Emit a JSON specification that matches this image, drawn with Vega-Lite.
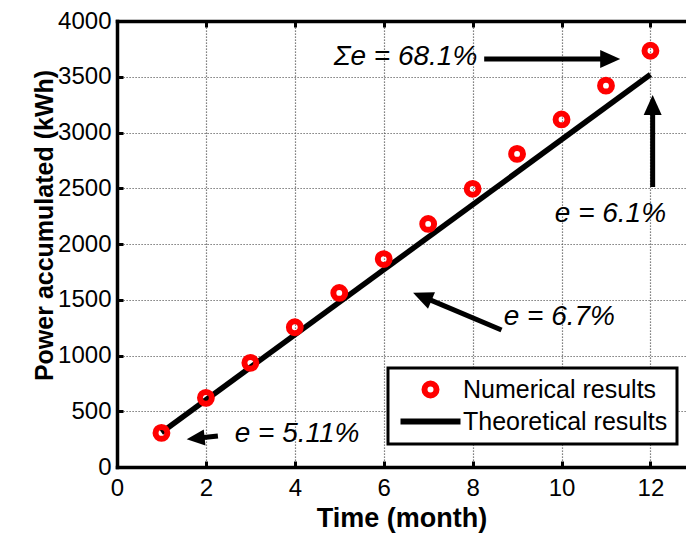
{
  "$schema": "https://vega.github.io/schema/vega-lite/v6.json",
  "width": 569,
  "height": 446,
  "autosize": {"type": "none"},
  "padding": {"left": 117, "top": 21, "right": 0, "bottom": 67},
  "background": "white",
  "config": {
    "font": "Liberation Sans",
    "view": {"stroke": null},
    "axis": {
      "domainColor": "black", "domainWidth": 3.5, "domainCap": "square",
      "tickColor": "black", "tickWidth": 3, "tickSize": -6,
      "labelColor": "black", "labelFontSize": 24, "labelFont": "Liberation Sans",
      "labelFlush": false, "labelOverlap": false, "labelPadding": 12,
      "titleColor": "black", "titleFont": "Liberation Sans", "titleFontWeight": "bold",
      "gridColor": "#5a5a5a", "gridDash": [1.2, 1.8], "gridWidth": 1.2
    },
    "legend": {
      "strokeColor": "black", "strokeWidth": 3, "fillColor": "white", "padding": 9,
      "labelFontSize": 25, "labelColor": "black", "labelFont": "Liberation Sans", "labelLimit": 500,
      "symbolSize": 144, "symbolStrokeWidth": 6, "symbolOffset": 21, "labelOffset": 20,
      "rowPadding": 1
    }
  },
  "datasets": {
    "numerical": [
      {"month": 1, "power": 306, "series": "Numerical results"},
      {"month": 2, "power": 620, "series": "Numerical results"},
      {"month": 3, "power": 934, "series": "Numerical results"},
      {"month": 4, "power": 1253, "series": "Numerical results"},
      {"month": 5, "power": 1561, "series": "Numerical results"},
      {"month": 6, "power": 1865, "series": "Numerical results"},
      {"month": 7, "power": 2180, "series": "Numerical results"},
      {"month": 8, "power": 2495, "series": "Numerical results"},
      {"month": 9, "power": 2808, "series": "Numerical results"},
      {"month": 10, "power": 3117, "series": "Numerical results"},
      {"month": 11, "power": 3420, "series": "Numerical results"},
      {"month": 12, "power": 3733, "series": "Numerical results"}
    ],
    "theoretical": [
      {"month": 1, "power": 310, "series": "Theoretical results"},
      {"month": 12, "power": 3520, "series": "Theoretical results"}
    ],
    "labels": [
      {"text": "Σe = 68.1%", "x": 6.49, "y": 3673},
      {"text": "e = 6.1%", "x": 11.1, "y": 2269},
      {"text": "e = 6.7%", "x": 9.95, "y": 1341},
      {"text": "e = 5.11%", "x": 4.05, "y": 296}
    ],
    "shafts": [
      {"arrow": "sum", "x": 8.26, "y": 3659, "x2": 11.0, "y2": 3659},
      {"arrow": "e12", "x": 12.05, "y": 2511, "x2": 12.05, "y2": 3247},
      {"arrow": "e6", "x": 8.65, "y": 1229, "x2": 6.87, "y2": 1528},
      {"arrow": "e1", "x": 2.27, "y": 278, "x2": 1.79, "y2": 258}
    ],
    "heads": [
      {"arrow": "sum", "x": 11.32, "y": 3659},
      {"arrow": "e12", "x": 12.05, "y": 3336},
      {"arrow": "e6", "x": 6.66, "y": 1563},
      {"arrow": "e1", "x": 1.568, "y": 248}
    ]
  },
  "resolve": {"axis": {"x": "independent", "y": "independent"}},
  "layer": [
    {
      "data": {"name": "theoretical"},
      "mark": {"type": "line", "strokeWidth": 5.5, "strokeCap": "butt"},
      "encoding": {
        "x": {"field": "month", "type": "quantitative",
          "scale": {"domain": [0, 12.8], "nice": false, "zero": false},
          "axis": {"orient": "top", "labels": false, "title": null, "grid": false, "values": [0, 2, 4, 6, 8, 10, 12]}},
        "y": {"field": "power", "type": "quantitative",
          "scale": {"domain": [0, 4000], "nice": false},
          "axis": {"orient": "left", "grid": true, "format": "d", "values": [0, 500, 1000, 1500, 2000, 2500, 3000, 3500, 4000], "title": "Power accumulated (kWh)", "titleFontSize": 25, "titleY": 204, "titlePadding": 0}},
        "color": {"field": "series", "type": "nominal",
          "scale": {"domain": ["Numerical results", "Theoretical results"], "range": ["#ff0000", "#000000"]},
          "legend": {"orient": "none", "legendX": 271, "legendY": 347, "title": null}}
      }
    },
    {
      "data": {"name": "numerical"},
      "mark": {"type": "point", "filled": false, "size": 140, "strokeWidth": 6, "opacity": 1},
      "encoding": {
        "x": {"field": "month", "type": "quantitative",
          "axis": {"orient": "bottom", "grid": true, "labelPadding": 15, "values": [0, 2, 4, 6, 8, 10, 12], "title": "Time (month)", "titleFontSize": 27, "titlePadding": 5}},
        "y": {"field": "power", "type": "quantitative", "axis": null},
        "color": {"field": "series", "type": "nominal",
          "legend": {"orient": "none", "legendX": 271, "legendY": 347, "title": null}},
        "shape": {"field": "series", "type": "nominal",
          "scale": {"domain": ["Numerical results", "Theoretical results"], "range": ["circle", "M-5,0H5"]},
          "legend": {"orient": "none", "legendX": 271, "legendY": 347, "title": null}}
      }
    },
    {
      "data": {"name": "shafts"},
      "mark": {"type": "rule", "strokeWidth": 5, "color": "black", "strokeCap": "butt"},
      "encoding": {
        "x": {"field": "x", "type": "quantitative", "axis": null},
        "y": {"field": "y", "type": "quantitative", "axis": null},
        "x2": {"field": "x2"},
        "y2": {"field": "y2"}
      }
    },
    {
      "data": {"name": "heads"},
      "transform": [{"filter": "datum.arrow === 'sum'"}],
      "mark": {"type": "point", "shape": "M0,0L0.9,2L-0.9,2Z", "filled": true, "color": "black", "size": 400, "angle": 90, "opacity": 1, "strokeWidth": 0},
      "encoding": {
        "x": {"field": "x", "type": "quantitative", "axis": null},
        "y": {"field": "y", "type": "quantitative", "axis": null}
      }
    },
    {
      "data": {"name": "heads"},
      "transform": [{"filter": "datum.arrow === 'e12'"}],
      "mark": {"type": "point", "shape": "M0,0L0.9,2L-0.9,2Z", "filled": true, "color": "black", "size": 400, "angle": 0, "opacity": 1, "strokeWidth": 0},
      "encoding": {
        "x": {"field": "x", "type": "quantitative", "axis": null},
        "y": {"field": "y", "type": "quantitative", "axis": null}
      }
    },
    {
      "data": {"name": "heads"},
      "transform": [{"filter": "datum.arrow === 'e6'"}],
      "mark": {"type": "point", "shape": "M0,0L0.9,2L-0.9,2Z", "filled": true, "color": "black", "size": 400, "angle": 292.8, "opacity": 1, "strokeWidth": 0},
      "encoding": {
        "x": {"field": "x", "type": "quantitative", "axis": null},
        "y": {"field": "y", "type": "quantitative", "axis": null}
      }
    },
    {
      "data": {"name": "heads"},
      "transform": [{"filter": "datum.arrow === 'e1'"}],
      "mark": {"type": "point", "shape": "M0,0L0.9,2L-0.9,2Z", "filled": true, "color": "black", "size": 324, "angle": 264, "opacity": 1, "strokeWidth": 0},
      "encoding": {
        "x": {"field": "x", "type": "quantitative", "axis": null},
        "y": {"field": "y", "type": "quantitative", "axis": null}
      }
    },
    {
      "data": {"name": "labels"},
      "mark": {"type": "text", "fontSize": 28, "fontStyle": "italic", "font": "Liberation Sans", "color": "black", "align": "center", "baseline": "middle"},
      "encoding": {
        "x": {"field": "x", "type": "quantitative", "axis": null},
        "y": {"field": "y", "type": "quantitative", "axis": null},
        "text": {"field": "text"}
      }
    }
  ]
}
